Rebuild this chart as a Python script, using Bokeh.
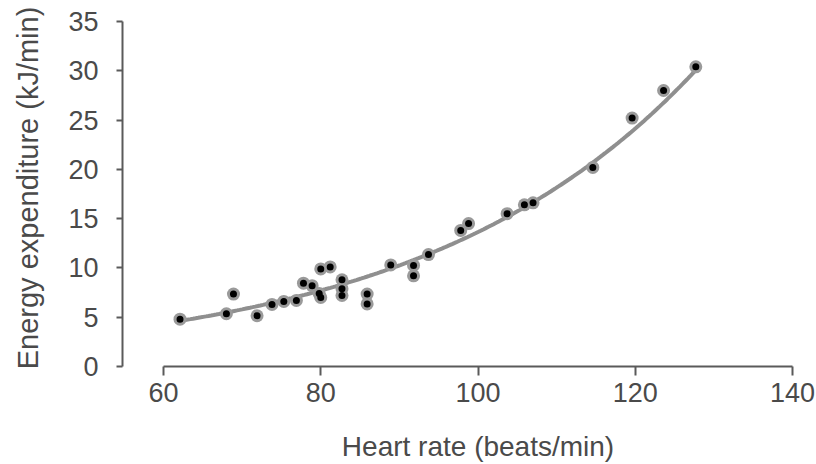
import numpy as np
from bokeh.plotting import figure
from bokeh.models import Range1d, FixedTicker, ColumnDataSource, Label
from bokeh.embed import file_html
from bokeh.resources import INLINE

# Data
heart_rate = [62.1, 68.0, 68.9, 71.9, 73.8, 75.3, 76.9, 77.8, 78.9, 79.8, 80.0,
              80.0, 81.2, 82.7, 82.7, 82.7, 85.9, 85.9, 88.9, 91.8, 91.8, 93.7,
              97.8, 98.8, 103.7, 105.9, 107.0, 114.6, 119.6, 123.6, 127.7]
energy = [4.8, 5.35, 7.35, 5.15, 6.3, 6.6, 6.7, 8.45, 8.2, 7.4, 7.0,
          9.9, 10.1, 8.8, 7.9, 7.2, 7.35, 6.35, 10.3, 10.25, 9.2, 11.35,
          13.8, 14.5, 15.5, 16.4, 16.6, 20.2, 25.2, 28.0, 30.4]

x_ticks = [60, 80, 100, 120, 140]
y_ticks = [0, 5, 10, 15, 20, 25, 30, 35]
x_title = "Heart rate (beats/min)"
y_title = "Energy expenditure (kJ/min)"

# Exponential trendline fitted to the data
b, ln_a = np.polyfit(np.array(heart_rate), np.log(np.array(energy)), 1)
trend_x = np.linspace(min(heart_rate), max(heart_rate), 200)
trend_y = np.exp(ln_a) * np.exp(b * trend_x)

FONT = "Liberation Sans"
TXT = "#4a4a4a"
AX = "#5a5a5a"

# The frame fills the canvas; both axes are pinned inside it (offset axes look)
p = figure(width=816, height=464, output_backend="svg", toolbar_location=None,
           x_range=Range1d(39.269, 143.05), y_range=Range1d(-9.942, 37.13),
           min_border=0)
p.outline_line_color = None
p.grid.visible = False
p.background_fill_color = "white"
p.border_fill_color = "white"

p.line(trend_x, trend_y, line_color="#8f8f8f", line_width=4)

src = ColumnDataSource(dict(x=heart_rate, y=energy))
p.scatter("x", "y", source=src, size=13, fill_color="#9a9a9a", line_color=None)
p.scatter("x", "y", source=src, size=7, fill_color="black", line_color=None)

for ax in (p.xaxis[0], p.yaxis[0]):
    ax.axis_line_color = AX
    ax.axis_line_width = 2
    ax.major_tick_line_color = AX
    ax.major_tick_line_width = 2
    ax.major_tick_in = 0
    ax.minor_tick_line_color = None
    ax.major_label_text_font = FONT
    ax.major_label_text_font_size = "27px"
    ax.major_label_text_color = TXT

xa = p.xaxis[0]
xa.ticker = FixedTicker(ticks=x_ticks)
xa.bounds = (x_ticks[0], x_ticks[-1])
xa.fixed_location = 0
xa.major_tick_out = 9
xa.major_label_standoff = 8

ya = p.yaxis[0]
ya.ticker = FixedTicker(ticks=y_ticks)
ya.bounds = (y_ticks[0], y_ticks[-1])
ya.fixed_location = 54.785
ya.major_tick_out = 6
ya.major_label_standoff = 18

# axis titles
p.add_layout(Label(x=(x_ticks[0] + x_ticks[-1]) / 2, y=-8.1, text=x_title,
                   text_align="center", text_baseline="middle",
                   text_font=FONT, text_font_size="28px", text_color=TXT))
p.add_layout(Label(x=42.83, y=18.11, text=y_title, angle=np.pi / 2,
                   text_align="center", text_baseline="middle",
                   text_font=FONT, text_font_size="29px", text_color=TXT))

open("out.html", "w").write(file_html(p, INLINE))
